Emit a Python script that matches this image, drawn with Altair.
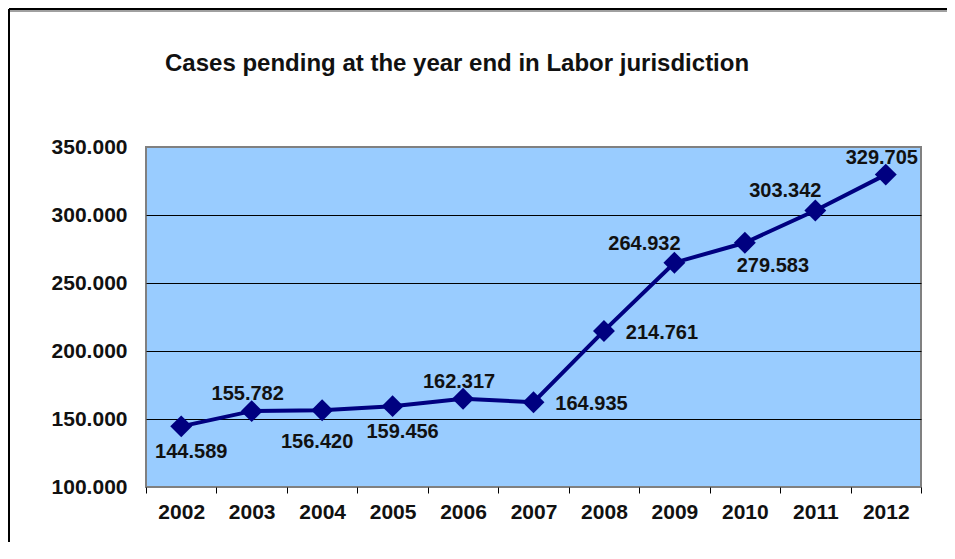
import altair as alt
import pandas as pd

years = ["2002", "2003", "2004", "2005", "2006", "2007", "2008", "2009", "2010", "2011", "2012"]
pending = [144589, 155782, 156420, 159456, 164935, 162317, 214761, 264932, 279583, 303342, 329705]
label_text = ["144.589", "155.782", "156.420", "159.456", "162.317", "164.935",
              "214.761", "264.932", "279.583", "303.342", "329.705"]
label_place = ["below", "above", "below-left", "below", "above", "right",
               "right", "above-left", "below-right", "above-left", "above"]
y_ticks = [100000, 150000, 200000, 250000, 300000, 350000]
title_text = "Cases pending at the year end in Labor jurisdiction"

df = pd.DataFrame({"year": years, "pending": pending, "label": label_text, "place": label_place})

FONT = "Liberation Sans"
NAVY = "#000080"
INK = "#111111"

x_enc = alt.X("year:O", title=None,
              scale=alt.Scale(paddingInner=0, paddingOuter=0),
              axis=alt.Axis(labelAngle=0, tickBand="extent", tickSize=6, tickColor="#000000",
                            tickWidth=1, domain=False, grid=False, labelPadding=8,
                            labelFont=FONT, labelFontSize=21, labelFontWeight="bold",
                            labelColor=INK))
y_enc = alt.Y("pending:Q", title=None,
              scale=alt.Scale(domain=[100000, 350000], nice=False, zero=False),
              axis=alt.Axis(values=y_ticks, ticks=False, domain=False, grid=True,
                            gridColor="#000000", gridWidth=1,
                            gridOpacity=alt.condition("datum.value == 100000 || datum.value == 350000",
                                                      alt.value(0), alt.value(1)),
                            labelExpr="replace(format(datum.value, ',.0f'), ',', '.')",
                            labelPadding=19, labelFont=FONT, labelFontSize=21,
                            labelFontWeight="bold", labelColor=INK))

base = alt.Chart(df).encode(x=x_enc, y=y_enc)

line = base.mark_line(color=NAVY, strokeWidth=4)
points = base.mark_point(shape="diamond", filled=True, size=480, color=NAVY, opacity=1)

offsets = {
    "above": (-4, -17),
    "above-left": (-30, -19),
    "below": (10, 26),
    "below-left": (-5, 32),
    "below-right": (28, 23),
    "right": (58, 2),
}
text_layers = []
for place, (dx, dy) in offsets.items():
    text_layers.append(
        base.transform_filter(alt.datum.place == place)
        .mark_text(font=FONT, fontSize=20, fontWeight="bold", color=INK,
                   align="center", baseline="middle", dx=dx, dy=dy)
        .encode(text="label:N")
    )

deco = alt.Chart(pd.DataFrame({"k": [0]}))
frame_top_shadow = deco.mark_rule(color="#a0a0a0", strokeWidth=2, clip=False).encode(
    x=alt.value(-137), x2=alt.value(2000), y=alt.value(-136))
frame_top = deco.mark_rule(color="#000000", strokeWidth=2, clip=False).encode(
    x=alt.value(-137), x2=alt.value(2000), y=alt.value(-138))
frame_left = deco.mark_rule(color="#000000", strokeWidth=2, clip=False).encode(
    x=alt.value(-137), y=alt.value(-138), y2=alt.value(2000))
title = deco.mark_text(font=FONT, fontSize=24, fontWeight="bold", color=INK,
                       align="left", baseline="alphabetic", clip=False).encode(
    x=alt.value(19), y=alt.value(-76), text=alt.value(title_text))

chart = alt.layer(frame_top_shadow, frame_top, frame_left, title,
                  line, points, *text_layers).properties(
    width=775, height=340,
    autosize=alt.AutoSizeParams(type="none"),
    padding={"left": 138, "top": 139, "right": 26, "bottom": 55},
).configure(background="white").configure_view(fill="#99CCFF", stroke="#808080", strokeWidth=2)

chart.save("out.html", embed_options={"renderer": "svg", "actions": False})
